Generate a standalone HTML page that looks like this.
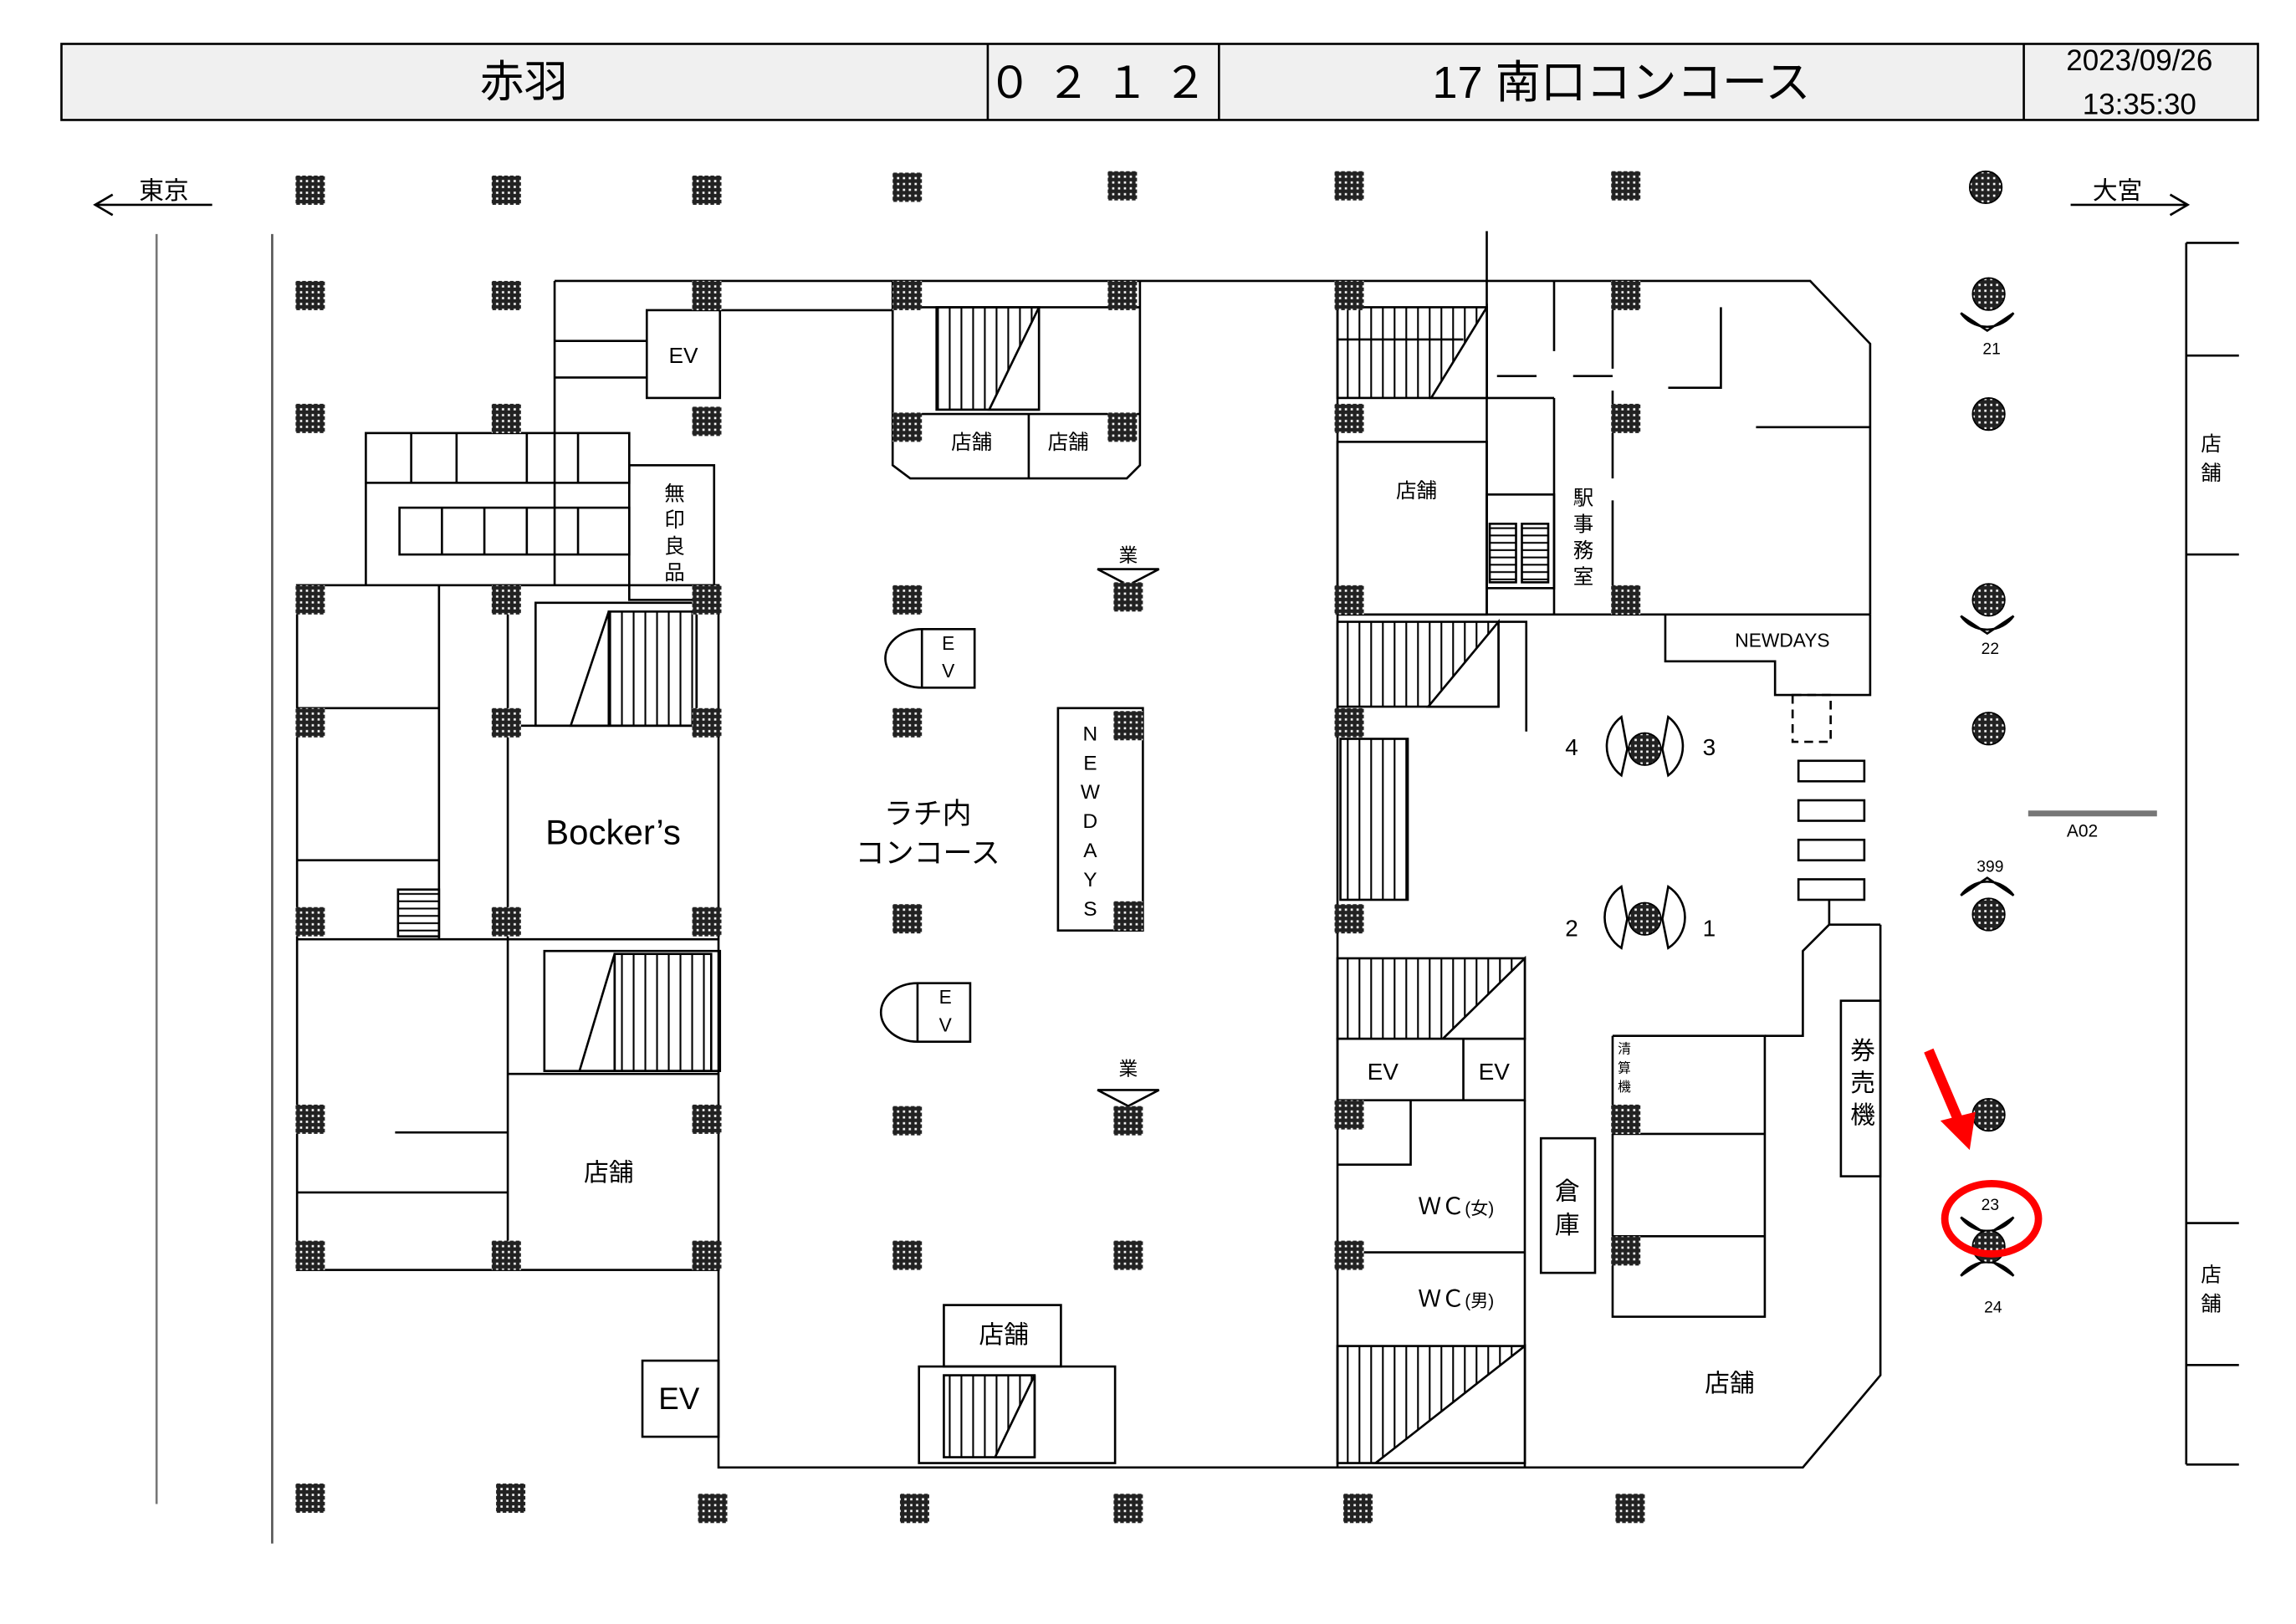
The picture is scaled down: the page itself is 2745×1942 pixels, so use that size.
<!DOCTYPE html>
<html><head><meta charset="utf-8"><style>
html,body{margin:0;padding:0;background:#fff}
svg{display:block}
text{font-family:"Liberation Sans","Noto Sans CJK JP",sans-serif;fill:#000}
</style></head><body>
<svg width="2745" height="1942" viewBox="0 0 1569 1110" preserveAspectRatio="none" xmlns="http://www.w3.org/2000/svg">
<defs>
<pattern id="pp" width="4" height="4" patternUnits="userSpaceOnUse"><rect width="4" height="4" fill="#222"/><rect x="1" y="1" width="1.5" height="1.5" fill="#fff"/></pattern>
<pattern id="st" width="8" height="10" patternUnits="userSpaceOnUse"><line x1="1" y1="0" x2="1" y2="10" stroke="#000" stroke-width="1.2"/></pattern>
<pattern id="sth" width="10" height="5" patternUnits="userSpaceOnUse"><line x1="0" y1="1" x2="10" y2="1" stroke="#000" stroke-width="1.2"/></pattern>
<g id="p"><rect x="-10" y="-10" width="20" height="20" fill="url(#pp)"/></g>
<g id="c"><circle r="11" fill="url(#pp)" stroke="#000"/></g>
</defs>
<g stroke="#000" fill="none" stroke-width="1.5">
<rect x="42" y="30" width="1501" height="52" fill="#f0f0f0"/>
<line x1="675" y1="30" x2="675" y2="82"/><line x1="833" y1="30" x2="833" y2="82"/><line x1="1383" y1="30" x2="1383" y2="82"/>
<line x1="65" y1="140" x2="145" y2="140"/><polyline points="77,133 65,140 77,147"/>
<line x1="1415" y1="140" x2="1495" y2="140"/><polyline points="1483,133 1495,140 1483,147"/>
<line x1="107" y1="160" x2="107" y2="1028" stroke="#777"/>
<line x1="186" y1="160" x2="186" y2="1055" stroke="#555"/>
<line x1="1494" y1="166" x2="1494" y2="1001"/>
<line x1="1494" y1="166" x2="1530" y2="166"/><line x1="1494" y1="243" x2="1530" y2="243"/><line x1="1494" y1="379" x2="1530" y2="379"/>
<line x1="1494" y1="836" x2="1530" y2="836"/><line x1="1494" y1="933" x2="1530" y2="933"/><line x1="1494" y1="1001" x2="1530" y2="1001"/>
<line x1="1386" y1="556" x2="1474" y2="556" stroke="#777" stroke-width="4"/>
<polyline points="491,192 1237,192 1278,235 1278,420"/>
<polyline points="1285,632 1285,940 1232,1003 491,1003 491,868"/>
<line x1="1016" y1="158" x2="1016" y2="420"/>
<rect x="203" y="400" width="288" height="468"/>
<line x1="203" y1="642" x2="491" y2="642"/><line x1="347" y1="400" x2="347" y2="868"/>
<line x1="203" y1="484" x2="300" y2="484"/><line x1="300" y1="400" x2="300" y2="642"/>
<line x1="203" y1="588" x2="300" y2="588"/><line x1="347" y1="496" x2="491" y2="496"/>
<line x1="347" y1="734" x2="491" y2="734"/><line x1="270" y1="774" x2="347" y2="774"/>
<line x1="203" y1="815" x2="347" y2="815"/>
<rect x="250" y="296" width="180" height="34"/><rect x="273" y="347" width="157" height="32"/>
<line x1="281" y1="296" x2="281" y2="330"/><line x1="312" y1="296" x2="312" y2="330"/><line x1="360" y1="296" x2="360" y2="330"/><line x1="395" y1="296" x2="395" y2="330"/>
<line x1="302" y1="347" x2="302" y2="379"/><line x1="331" y1="347" x2="331" y2="379"/><line x1="360" y1="347" x2="360" y2="379"/><line x1="395" y1="347" x2="395" y2="379"/>
<line x1="250" y1="330" x2="250" y2="400"/>
<rect x="430" y="318" width="58" height="92"/>
<polyline points="379,192 379,400"/><line x1="379" y1="192" x2="491" y2="192"/><line x1="379" y1="233" x2="442" y2="233"/><line x1="379" y1="258" x2="442" y2="258"/>
<rect x="442" y="212" width="50" height="60"/>
<line x1="491" y1="212" x2="610" y2="212"/>
<rect x="416" y="418" width="60" height="78" fill="url(#st)"/><polygon points="416,418 390,496 416,496" fill="#fff"/><rect x="366" y="412" width="110" height="84"/>
<rect x="420" y="652" width="66" height="80" fill="url(#st)"/><polygon points="420,652 396,732 420,732" fill="#fff"/><rect x="372" y="650" width="120" height="82"/>
<rect x="272" y="608" width="28" height="32" fill="url(#sth)"/>
<polyline points="610,192 610,318 622,327 770,327 779,318 779,192"/>
<line x1="610" y1="283" x2="779" y2="283"/><line x1="703" y1="283" x2="703" y2="327"/>
<rect x="640" y="210" width="70" height="70" fill="url(#st)"/><polygon points="710,210 676,280 710,280" fill="#fff"/>
<line x1="626" y1="210" x2="779" y2="210"/>
<rect x="723" y="484" width="58" height="152" fill="#fff"/>
<path d="M630,430 A25,20 0 0 0 630,470 L666,470 L666,430 Z"/><line x1="630" y1="430" x2="630" y2="470"/>
<path d="M627,672 A25,20 0 0 0 627,712 L663,712 L663,672 Z"/><line x1="627" y1="672" x2="627" y2="712"/>
<polygon points="750,389 792,389 771,400"/><polygon points="750,745 792,745 771,756"/>
<rect x="645" y="892" width="80" height="42"/>
<rect x="628" y="934" width="134" height="66"/><rect x="645" y="940" width="62" height="56" fill="url(#st)"/><polygon points="707,940 680,996 707,996" fill="#fff"/>
<rect x="439" y="930" width="52" height="52"/>
<line x1="914" y1="192" x2="914" y2="1003"/>
<rect x="914" y="210" width="102" height="62" fill="url(#st)"/><polygon points="1016,210 978,272 1016,272" fill="#fff"/>
<line x1="914" y1="232" x2="1000" y2="232"/>
<rect x="914" y="302" width="102" height="118"/><line x1="1016" y1="272" x2="1062" y2="272"/><line x1="1062" y1="272" x2="1062" y2="420"/>
<rect x="1016" y="338" width="46" height="64"/><rect x="1018" y="358" width="18" height="40" fill="url(#sth)"/><rect x="1040" y="358" width="18" height="40" fill="url(#sth)"/>
<line x1="914" y1="420" x2="1278" y2="420"/>
<line x1="1102" y1="192" x2="1102" y2="420" stroke-dasharray="60,15"/><line x1="1062" y1="192" x2="1062" y2="240"/>
<line x1="1023" y1="257" x2="1050" y2="257"/><line x1="1075" y1="257" x2="1102" y2="257"/>
<polyline points="1140,265 1176,265 1176,210"/><line x1="1200" y1="292" x2="1278" y2="292"/>
<polyline points="1138,420 1138,452 1213,452 1213,475 1278,475 1278,420"/>
<rect x="1225" y="475" width="26" height="32" stroke-dasharray="6,4"/>
<rect x="1229" y="520" width="45" height="14"/><rect x="1229" y="547" width="45" height="14"/><rect x="1229" y="574" width="45" height="14"/><rect x="1229" y="601" width="45" height="14"/>
<polyline points="1250,615 1250,632 1285,632"/>
<polyline points="1250,632 1232,650 1232,708 1206,708"/>
<rect x="914" y="425" width="110" height="58" fill="url(#st)"/><polygon points="1024,425 976,483 1024,483" fill="#fff"/>
<polyline points="1024,425 1043,425 1043,500"/>
<rect x="916" y="505" width="46" height="110" fill="url(#st)"/>
<rect x="914" y="655" width="128" height="55" fill="url(#st)"/><polygon points="1042,655 986,710 1042,710" fill="#fff"/>
<rect x="914" y="710" width="128" height="42"/><line x1="1000" y1="710" x2="1000" y2="752"/>
<polyline points="964,752 964,796 914,796"/>
<line x1="914" y1="856" x2="1042" y2="856"/><line x1="1042" y1="752" x2="1042" y2="1003"/>
<rect x="914" y="920" width="128" height="80" fill="url(#st)"/><polygon points="1042,920 940,1000 1042,1000" fill="#fff"/>
<rect x="1053" y="778" width="37" height="92"/>
<polyline points="1102,708 1206,708 1206,900 1102,900 1102,708"/>
<line x1="1102" y1="775" x2="1206" y2="775"/><line x1="1102" y1="845" x2="1206" y2="845"/>
<rect x="1258" y="684" width="27" height="120"/>
<path d="M1340,214 L1358,226 L1376,214 A22,22 0 0 1 1340,214 Z"/>
<path d="M1340,421 L1358,433 L1376,421 A22,22 0 0 1 1340,421 Z"/>
<path d="M1340,612 L1358,600 L1376,612 A22,22 0 0 0 1340,612 Z"/>
<path d="M1340,832 L1358,844 L1376,832 A22,22 0 0 1 1340,832 Z"/>
<path d="M1340,872 L1358,860 L1376,872 A22,22 0 0 0 1340,872 Z"/>
<path d="M1108,490 L1112,512 L1108,530 A25,25 0 0 1 1108,490 Z"/><path d="M1140,490 L1136,512 L1140,530 A25,25 0 0 0 1140,490 Z"/>
<path d="M1108,606 L1112,628 L1108,648 A25,25 0 0 1 1108,606 Z"/><path d="M1140,606 L1136,628 L1140,648 A25,25 0 0 0 1140,606 Z"/>
</g>
<g>
<use href="#p" x="212" y="130"/><use href="#p" x="346" y="130"/><use href="#p" x="483" y="130"/><use href="#p" x="620" y="128"/><use href="#p" x="767" y="127"/><use href="#p" x="922" y="127"/><use href="#p" x="1111" y="127"/>
<use href="#p" x="212" y="202"/><use href="#p" x="346" y="202"/><use href="#p" x="483" y="202"/><use href="#p" x="620" y="202"/><use href="#p" x="767" y="202"/><use href="#p" x="922" y="202"/><use href="#p" x="1111" y="202"/>
<use href="#p" x="212" y="286"/><use href="#p" x="346" y="286"/><use href="#p" x="483" y="288"/><use href="#p" x="620" y="292"/><use href="#p" x="767" y="292"/><use href="#p" x="922" y="286"/><use href="#p" x="1111" y="286"/>
<use href="#p" x="212" y="410"/><use href="#p" x="346" y="410"/><use href="#p" x="483" y="410"/><use href="#p" x="620" y="410"/><use href="#p" x="771" y="408"/><use href="#p" x="922" y="410"/><use href="#p" x="1111" y="410"/>
<use href="#p" x="212" y="494"/><use href="#p" x="346" y="494"/><use href="#p" x="483" y="494"/><use href="#p" x="620" y="494"/><use href="#p" x="771" y="496"/><use href="#p" x="922" y="494"/>
<use href="#p" x="212" y="630"/><use href="#p" x="346" y="630"/><use href="#p" x="483" y="630"/><use href="#p" x="620" y="628"/><use href="#p" x="771" y="626"/><use href="#p" x="922" y="628"/>
<use href="#p" x="212" y="765"/><use href="#p" x="483" y="765"/><use href="#p" x="620" y="766"/><use href="#p" x="771" y="766"/><use href="#p" x="922" y="762"/><use href="#p" x="1111" y="765"/>
<use href="#p" x="212" y="858"/><use href="#p" x="346" y="858"/><use href="#p" x="483" y="858"/><use href="#p" x="620" y="858"/><use href="#p" x="771" y="858"/><use href="#p" x="922" y="858"/><use href="#p" x="1111" y="855"/>
<use href="#p" x="212" y="1024"/><use href="#p" x="349" y="1024"/><use href="#p" x="487" y="1031"/><use href="#p" x="625" y="1031"/><use href="#p" x="771" y="1031"/><use href="#p" x="928" y="1031"/><use href="#p" x="1114" y="1031"/>
<use href="#c" x="1357" y="128"/><use href="#c" x="1359" y="201"/><use href="#c" x="1359" y="283"/><use href="#c" x="1359" y="410"/><use href="#c" x="1359" y="498"/><use href="#c" x="1359" y="625"/><use href="#c" x="1359" y="762"/><use href="#c" x="1359" y="852"/>
<use href="#c" x="1124" y="512"/><use href="#c" x="1124" y="628"/>
</g>
<line x1="1318" y1="718" x2="1338" y2="765" stroke="#f00" stroke-width="7"/>
<polygon points="1326,766 1350,760 1346,786" fill="#f00"/>
<ellipse cx="1361" cy="833" rx="32" ry="24" fill="none" stroke="#f00" stroke-width="5"/>
<g text-anchor="middle">
<text x="358" y="66" font-size="30">赤羽</text>
<text x="755" y="67" font-size="30" letter-spacing="10">０２１２</text>
<text x="1108" y="67" font-size="31">17 南口コンコース</text>
<text x="1462" y="48" font-size="20">2023/09/26</text>
<text x="1462" y="78" font-size="20">13:35:30</text>
<text x="112" y="136" font-size="17">東京</text>
<text x="1447" y="136" font-size="17">大宮</text>
<text x="467" y="248" font-size="15">EV</text>
<text x="461" y="342" font-size="14">無</text><text x="461" y="360" font-size="14">印</text><text x="461" y="378" font-size="14">良</text><text x="461" y="396" font-size="14">品</text>
<text x="419" y="577" font-size="24">Bocker’s</text>
<text x="416" y="807" font-size="17">店舗</text>
<text x="664" y="307" font-size="14">店舗</text><text x="730" y="307" font-size="14">店舗</text>
<text x="771" y="384" font-size="13">業</text><text x="771" y="735" font-size="13">業</text>
<text x="648" y="444" font-size="13">E</text><text x="648" y="463" font-size="13">V</text>
<text x="646" y="686" font-size="13">E</text><text x="646" y="705" font-size="13">V</text>
<text x="745" y="506" font-size="14">N</text><text x="745" y="526" font-size="14">E</text><text x="745" y="546" font-size="14">W</text><text x="745" y="566" font-size="14">D</text><text x="745" y="586" font-size="14">A</text><text x="745" y="606" font-size="14">Y</text><text x="745" y="626" font-size="14">S</text>
<text x="634" y="563" font-size="20">ラチ内</text>
<text x="634" y="590" font-size="20">コンコース</text>
<text x="686" y="918" font-size="17">店舗</text>
<text x="464" y="963" font-size="21">EV</text>
<text x="968" y="340" font-size="14">店舗</text>
<text x="1082" y="345" font-size="14">駅</text><text x="1082" y="363" font-size="14">事</text><text x="1082" y="381" font-size="14">務</text><text x="1082" y="399" font-size="14">室</text>
<text x="1218" y="442" font-size="13">NEWDAYS</text>
<text x="1074" y="516" font-size="16">4</text><text x="1168" y="516" font-size="16">3</text>
<text x="1074" y="640" font-size="16">2</text><text x="1168" y="640" font-size="16">1</text>
<text x="945" y="738" font-size="16">EV</text><text x="1021" y="738" font-size="16">EV</text>
<text x="995" y="830" font-size="16">ＷＣ<tspan font-size="12">(女)</tspan></text>
<text x="995" y="893" font-size="16">ＷＣ<tspan font-size="12">(男)</tspan></text>
<text x="1071" y="820" font-size="17">倉</text><text x="1071" y="843" font-size="17">庫</text>
<text x="1110" y="720" font-size="9">清</text><text x="1110" y="733" font-size="9">算</text><text x="1110" y="746" font-size="9">機</text>
<text x="1273" y="724" font-size="17">券</text><text x="1273" y="746" font-size="17">売</text><text x="1273" y="768" font-size="17">機</text>
<text x="1182" y="951" font-size="17">店舗</text>
<text x="1511" y="308" font-size="14">店</text><text x="1511" y="328" font-size="14">舗</text>
<text x="1511" y="876" font-size="14">店</text><text x="1511" y="896" font-size="14">舗</text>
<text x="1361" y="242" font-size="11">21</text><text x="1360" y="447" font-size="11">22</text><text x="1360" y="596" font-size="11">399</text>
<text x="1360" y="827" font-size="11">23</text><text x="1362" y="897" font-size="11">24</text>
<text x="1423" y="572" font-size="12">A02</text>
</g>
</svg>
</body></html>
